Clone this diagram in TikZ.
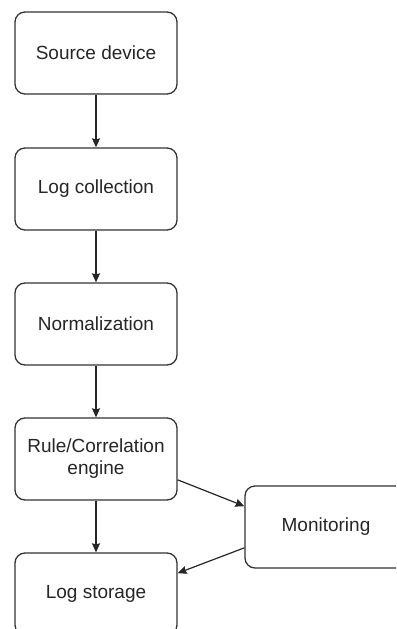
\documentclass[tikz,border=0pt]{standalone}
\usepackage{fontspec}
\setmainfont{Liberation Sans}
\usetikzlibrary{calc,arrows.meta}

\tikzset{
  stagebox/.style={draw=black!80, line width=1.3bp, rounded corners=10bp,
    minimum width=162bp, minimum height=82bp, inner sep=0pt,
    align=center, text=black!85,
    font=\fontsize{19bp}{22bp}\selectfont},
  flow/.style={draw=black!85, line width=1.2bp,
    -{Stealth[length=9bp,width=8bp,inset=1bp]}}
}

\begin{document}
\begin{tikzpicture}[x=1bp,y=-1bp]
  \clip (0,0) rectangle (396,629);
  \fill[white] (0,0) rectangle (396,629);

  % pipeline stages
  \node[stagebox] (src)   at (96,53)  {Source device};
  \node[stagebox] (coll)  at (96,189) {Log collection};
  \node[stagebox] (norm)  at (96,324) {Normalization};
  \node[stagebox] (rule)  at (96,459) {Rule/Correlation\\engine};
  \node[stagebox] (store) at (96,594) {Log storage};
  \node[stagebox] (mon)   at (326,527) {Monitoring};

  % connection points on the sides
  \coordinate (ruleOut)  at ($(rule.east)!0.5!(rule.south east)$);
  \coordinate (monIn)    at ($(mon.west)!0.5!(mon.north west)$);
  \coordinate (monOut)   at ($(mon.west)!0.5!(mon.south west)$);
  \coordinate (storeIn)  at ($(store.east)!0.5!(store.north east)$);

  % vertical flow
  \draw[flow] (src)  -- (coll);
  \draw[flow] (coll) -- (norm);
  \draw[flow] (norm) -- (rule);
  \draw[flow] (rule) -- (store);

  % side branch through monitoring
  \draw[flow] (ruleOut) -- (monIn);
  \draw[flow] (monOut)  -- (storeIn);
\end{tikzpicture}
\end{document}
